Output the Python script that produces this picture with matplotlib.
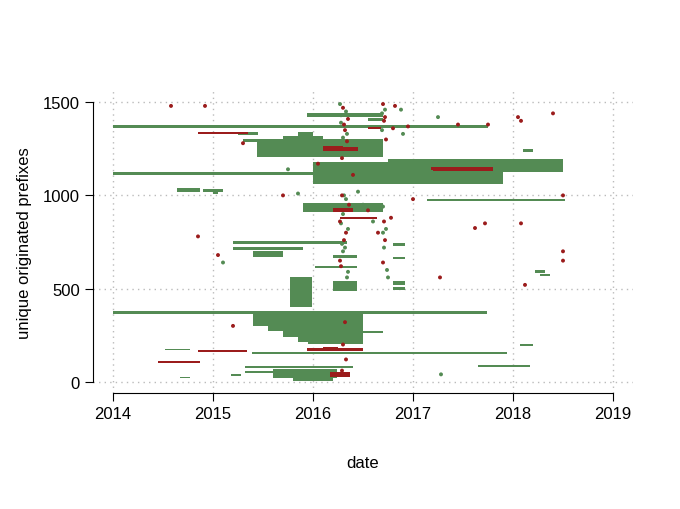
import matplotlib
matplotlib.use("Agg")
import matplotlib.pyplot as plt

G = '#548b54'
R = '#9b1c1c'

# horizontal runs: start year, end year, y low, y high, colour
seg_start = [2014.0, 2015.94, 2015.25, 2014.85, 2015.44, 2015.55, 2015.70, 2015.85, 2016.1, 2016.3,
             2014.0, 2016.0, 2016.75, 2016.45, 2017.2, 2017.6, 2014.64, 2015.0, 2017.14, 2015.9,
             2016.2, 2016.27, 2015.2, 2015.2, 2015.4, 2016.2, 2016.02, 2016.2, 2015.77, 2015.85,
             2014.0, 2015.4, 2015.55, 2015.7, 2015.85, 2015.95, 2016.5, 2014.52, 2014.85, 2015.39,
             2015.94, 2016.1, 2014.45, 2015.32, 2017.65, 2015.6, 2015.8, 2016.17, 2015.32, 2014.67,
             2015.18, 2018.07, 2018.27, 2018.22, 2016.8, 2016.8, 2016.8, 2016.8, 2014.9, 2018.1,
             2018.15, 2017.18, 2015.3, 2016.55, 2016.55]
seg_end = [2017.75, 2016.70, 2015.45, 2015.35, 2016.70, 2016.2, 2016.1, 2016.0, 2016.45, 2016.5,
           2016.9, 2017.9, 2018.5, 2017.7, 2017.8, 2017.5, 2014.87, 2015.05, 2018.52, 2016.7,
           2016.4, 2016.64, 2016.34, 2015.9, 2015.7, 2016.44, 2016.44, 2016.44, 2015.99, 2015.95,
           2017.74, 2016.5, 2016.5, 2016.5, 2016.5, 2016.5, 2016.7, 2014.77, 2015.34, 2017.94,
           2016.5, 2016.25, 2014.87, 2016.4, 2018.17, 2016.24, 2016.2, 2016.37, 2015.6, 2014.77,
           2015.28, 2018.2, 2018.37, 2018.32, 2016.92, 2016.92, 2016.92, 2016.92, 2015.1, 2018.2,
           2018.5, 2017.4, 2015.45, 2016.7, 2016.68]
seg_lo = [1362, 1420, 1325, 1328, 1205, 1225, 1250, 1270, 1240, 1260,
          1112, 1060, 1125, 1080, 1130, 1140, 1020, 1005, 970, 910,
          910, 872, 740, 705, 670, 662, 610, 487, 402, 440,
          366, 300, 270, 240, 215, 204, 262, 168, 160, 150,
          165, 178, 102, 74, 80, 20, 5, 27, 45, 18,
          30, 190, 565, 585, 730, 660, 520, 495, 1020, 1235,
          1160, 1135, 1285, 1400, 1355]
seg_hi = [1378, 1440, 1340, 1342, 1300, 1300, 1320, 1340, 1265, 1280,
          1128, 1178, 1195, 1110, 1150, 1150, 1040, 1030, 982, 960,
          935, 884, 758, 722, 700, 678, 622, 540, 562, 480,
          380, 364, 300, 270, 240, 215, 275, 178, 172, 160,
          180, 186, 114, 86, 92, 70, 40, 53, 58, 28,
          42, 205, 580, 598, 742, 672, 540, 510, 1033, 1250,
          1172, 1150, 1300, 1415, 1365]
seg_col = [G, G, G, R, G, G, G, G, R, G,
           G, G, G, G, R, R, G, G, G, G,
           R, R, G, G, G, G, G, G, G, G,
           G, G, G, G, G, G, G, G, R, G,
           R, R, R, G, G, G, G, R, G, G,
           G, G, G, G, G, G, G, G, G, G,
           G, R, G, G, R]

# scattered single prefixes
dot_x = [2014.58, 2014.92, 2016.27, 2016.3, 2016.33, 2016.35, 2016.28, 2016.32, 2016.3, 2016.34,
         2016.29, 2016.31, 2016.36, 2016.28, 2016.33, 2016.3, 2016.27, 2016.35, 2016.32, 2016.29,
         2016.7, 2016.72, 2016.71, 2016.69, 2016.73, 2016.7, 2016.72, 2016.71, 2016.7, 2016.74,
         2016.75, 2016.82, 2016.88, 2016.95, 2017.25, 2017.45, 2017.62, 2017.72, 2017.75, 2018.05,
         2018.08, 2018.4, 2018.5, 2018.5, 2015.85, 2015.3, 2015.7, 2016.8, 2016.9, 2017.0,
         2016.45, 2016.55, 2016.6, 2016.65, 2015.2, 2017.27, 2018.08, 2018.12, 2016.4, 2016.05,
         2015.75, 2015.05, 2015.1, 2014.85, 2016.12, 2016.5, 2016.78, 2018.5, 2017.28, 2016.02,
         2016.28, 2016.31, 2016.34, 2016.29, 2016.33, 2016.3, 2016.27, 2016.35, 2016.31, 2016.29,
         2016.32, 2016.28, 2016.34, 2016.3, 2016.33, 2016.69, 2016.72, 2016.7, 2016.71, 2016.73]
dot_y = [1480, 1480, 1490, 1470, 1450, 1410, 1390, 1350, 1310, 1290,
         1200, 1000, 950, 850, 800, 700, 650, 590, 320, 60,
         1490, 1460, 1400, 1350, 1300, 800, 760, 720, 640, 600,
         560, 1480, 1460, 1370, 1420, 1380, 825, 850, 1380, 1420,
         1400, 1440, 1000, 700, 1010, 1280, 1000, 1360, 1330, 980,
         1020, 920, 860, 800, 300, 560, 850, 520, 1110, 1170,
         1140, 680, 640, 780, 1250, 950, 880, 650, 40, 240,
         1430, 1380, 1330, 1000, 980, 900, 860, 820, 760, 740,
         720, 620, 560, 200, 120, 1440, 1420, 940, 860, 820]
dot_col = [R, R, G, R, G, R, G, R, G, R,
           R, G, R, G, R, G, R, G, R, R,
           R, G, R, G, R, G, R, G, R, G,
           G, R, G, R, G, R, R, R, R, R,
           R, R, R, R, G, R, R, R, G, R,
           G, R, G, R, R, R, R, R, R, R,
           G, R, G, R, R, G, R, R, G, G,
           G, R, G, R, G, G, R, G, R, G,
           G, R, G, R, R, G, R, G, R, G]

plt.rcParams['font.family'] = ['Liberation Sans', 'DejaVu Sans']
fig = plt.figure(figsize=(6.8, 5.1), dpi=100)
ax = fig.add_axes([93/680, 116/510, 540/680, 302/510])

widths = [e - s for s, e in zip(seg_start, seg_end)]
heights = [h - l for l, h in zip(seg_lo, seg_hi)]
ax.bar(seg_start, heights, width=widths, bottom=seg_lo, align='edge', color=seg_col, linewidth=0, zorder=3)
ax.scatter(dot_x, dot_y, s=8, c=dot_col, linewidths=0, zorder=4)

ax.set_xlim(2013.8, 2019.2)
ax.set_ylim(-60, 1560)
ax.set_xticks([2014, 2015, 2016, 2017, 2018, 2019])
ax.set_yticks([0, 500, 1000, 1500])
ax.grid(True, color='#bbbbbb', linestyle=(0, (1, 3)), linewidth=1, zorder=0)
for s in ['top', 'right']:
    ax.spines[s].set_visible(False)
ax.spines['left'].set_bounds(0, 1500)
ax.spines['bottom'].set_bounds(2014, 2019)
ax.tick_params(labelsize=12, length=6)
ax.set_xlabel('date', fontsize=12, labelpad=24)
ax.set_ylabel('unique originated prefixes', fontsize=12, labelpad=8)
fig.savefig('out.png', dpi=100)
